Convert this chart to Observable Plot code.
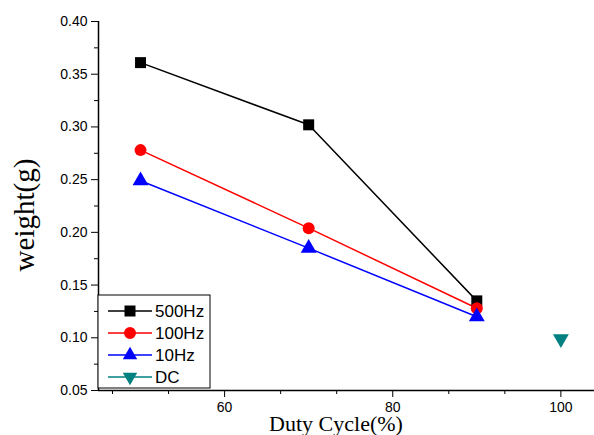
<!DOCTYPE html>
<html><head><meta charset="utf-8">
<script src="https://cdn.jsdelivr.net/npm/d3@7"></script>
<script src="https://cdn.jsdelivr.net/npm/@observablehq/plot@0.6"></script>
<style>body{margin:0;background:#fff}</style>
</head><body>
<div id="chart"></div>
<script>
const duty = [50, 70, 90];
const hz500 = [0.361, 0.302, 0.135];
const hz100 = [0.278, 0.204, 0.128];
const hz10 = [0.249, 0.185, 0.120];
const dcDuty = [100];
const dcVal = [0.099];
const seriesNames = ["500Hz", "100Hz", "10Hz", "DC"];
const seriesColors = ["#000000", "#ff0000", "#0000ff", "#008080"];
const seriesSymbols = ["square", "circle", "triangle", "triangleDown"];
const xTicks = [60, 80, 100];
const xMinor = [46.667, 53.333, 66.667, 73.333, 86.667, 93.333];
const yTicks = [0.05, 0.10, 0.15, 0.20, 0.25, 0.30, 0.35, 0.40];
const yMinor = [0.075, 0.125, 0.175, 0.225, 0.275, 0.325, 0.375];

const rows = (xs, ys, s) => xs.map((x, i) => ({x, y: ys[i], s}));
const lines = [
  ...rows(duty, hz500, "500Hz"),
  ...rows(duty, hz100, "100Hz"),
  ...rows(duty, hz10, "10Hz")
];
const dc = rows(dcDuty, dcVal, "DC");
const color = d => seriesColors[seriesNames.indexOf(d.s)];
const sqrt3 = Math.sqrt(3);
const triDown = {draw(ctx, size) {
  const y = -Math.sqrt(size / (sqrt3 * 3));
  ctx.moveTo(0, -y * 2);
  ctx.lineTo(-sqrt3 * y, y);
  ctx.lineTo(sqrt3 * y, y);
  ctx.closePath();
}};

const font = "Arial, 'Liberation Sans', sans-serif";
const serif = "'Liberation Serif', 'Times New Roman', serif";
const plot = Plot.plot({
  width: 594, height: 435,
  marginLeft: 98, marginRight: 0, marginTop: 21, marginBottom: 45,
  style: {fontFamily: font, fontSize: "14px", background: "#fff"},
  x: {domain: [45, 104], axis: null},
  y: {domain: [0.05, 0.40], axis: null},
  marks: [
    Plot.axisX({ticks: xTicks, tickSize: 7, tickPadding: 5, label: null, fontSize: 14}),
    Plot.axisX({ticks: xMinor, tickSize: 4, text: null, label: null}),
    Plot.axisY({ticks: yTicks, tickSize: 7, tickPadding: 4, tickFormat: d3.format(".2f"), label: null, fontSize: 14}),
    Plot.axisY({ticks: yMinor, tickSize: 4, text: null, label: null}),
    Plot.ruleX([45], {stroke: "#000", strokeWidth: 1.5}),
    Plot.ruleY([0.05], {stroke: "#000", strokeWidth: 1.5}),
    Plot.line(lines, {x: "x", y: "y", z: "s", stroke: color, strokeWidth: 1.5}),
    Plot.dot(lines.filter(d => d.s === "500Hz"), {x: "x", y: "y", symbol: "square", r: 6.2, fill: "#000", stroke: "none"}),
    Plot.dot(lines.filter(d => d.s === "100Hz"), {x: "x", y: "y", symbol: "circle", r: 6, fill: "#ff0000", stroke: "none"}),
    Plot.dot(lines.filter(d => d.s === "10Hz"), {x: "x", y: "y", symbol: "triangle", r: 5.9, fill: "#0000ff", stroke: "none"}),
    Plot.dot(dc, {x: "x", y: "y", symbol: triDown, r: 5.9, fill: "#008080", stroke: "none"})
  ]
});
document.getElementById("chart").appendChild(plot);

const svg = d3.select(plot);
// axis titles
svg.append("text").attr("transform", "translate(34,215) rotate(-90)")
  .attr("text-anchor", "middle").attr("font-size", 29).attr("font-family", serif).attr("fill", "#000").text("weight(g)");
svg.append("text").attr("x", 336).attr("y", 431)
  .attr("text-anchor", "middle").attr("font-size", 22).attr("font-family", serif).attr("fill", "#000").text("Duty Cycle(%)");

// legend
const lg = svg.append("g").attr("transform", "translate(98,295)");
lg.append("rect").attr("width", 112).attr("height", 93).attr("fill", "#fff").attr("stroke", "#000").attr("stroke-width", 1);
const symMap = {square: d3.symbolSquare, circle: d3.symbolCircle, triangle: d3.symbolTriangle, triangleDown: triDown};
const symSize = {square: 121, circle: 113, triangle: 90, triangleDown: 90};
seriesNames.forEach((name, i) => {
  const y = 16 + i * 22;
  const g = lg.append("g").attr("transform", `translate(0,${y})`);
  g.append("line").attr("x1", 10).attr("x2", 54).attr("y1", 0).attr("y2", 0).attr("stroke", seriesColors[i]).attr("stroke-width", 1.5);
  g.append("path").attr("transform", "translate(32,0)").attr("d", d3.symbol(symMap[seriesSymbols[i]], symSize[seriesSymbols[i]])()).attr("fill", seriesColors[i]);
  g.append("text").attr("x", 57).attr("y", 0).attr("dy", "0.36em").attr("text-anchor", "start")
    .attr("font-size", 17).attr("font-family", font).attr("fill", "#000").text(name);
});
</script>
</body></html>
